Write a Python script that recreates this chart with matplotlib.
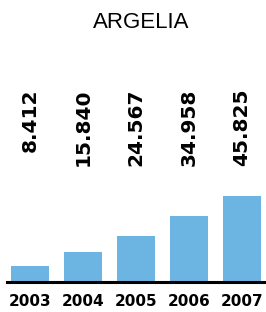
import matplotlib
matplotlib.use("Agg")
import matplotlib.pyplot as plt
from matplotlib.transforms import blended_transform_factory

title = "ARGELIA"
years = ["2003", "2004", "2005", "2006", "2007"]
values = [8412, 15840, 24567, 34958, 45825]

W, H = 266, 312
fig = plt.figure(figsize=(W / 100, H / 100), dpi=100)

# axes: left edge of baseline at x=7, baseline at y=282 (from top)
ax = fig.add_axes([7 / W, (H - 282) / H, (W - 7) / W, 92 / H])
x = list(range(len(values)))
ax.bar(x, values, width=0.71, color="#6cb4e2", zorder=2)
ax.set_xlim(-0.434, 4.453)
ax.set_ylim(0, 49000)

for s in ["top", "left", "right"]:
    ax.spines[s].set_visible(False)
ax.spines["bottom"].set_linewidth(2.2)
ax.spines["bottom"].set_color("black")
ax.spines["bottom"].set_zorder(3)
ax.set_yticks([])
ax.set_xticks(x)
ax.set_xticklabels(years, fontsize=11, fontweight="bold", family="DejaVu Sans")
ax.tick_params(axis="x", length=0, pad=9)

trans = blended_transform_factory(ax.transData, fig.transFigure)
for i, v in enumerate(values):
    label = f"{v:,}".replace(",", ".")
    ax.text(i, 1 - 89 / H, label, transform=trans, rotation=90,
            ha="center", va="top", fontsize=14.5, fontweight="bold",
            family="DejaVu Sans")

fig.text(141 / W, 1 - 22 / H, title, ha="center", va="center",
         fontsize=16, family="Liberation Sans")

fig.savefig("out.png", dpi=100)
